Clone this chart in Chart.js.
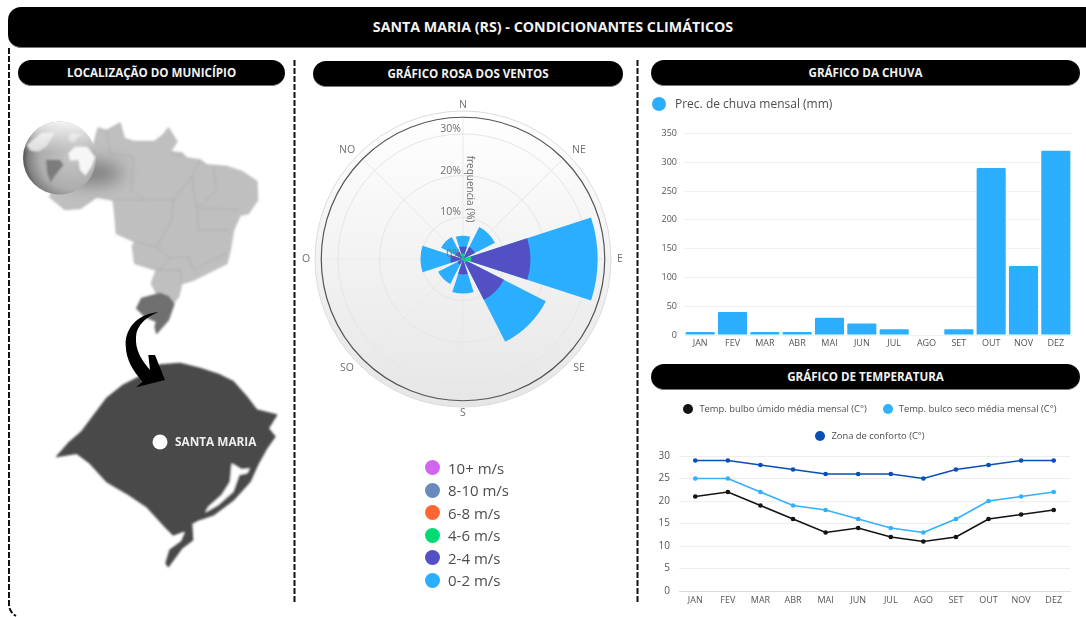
<!DOCTYPE html>
<html>
<head>
<meta charset="utf-8">
<title>Santa Maria (RS) - Condicionantes climáticos</title>
<script src="https://cdn.jsdelivr.net/npm/chart.js@4"></script>
<style>
  html, body { margin: 0; padding: 0; background: #fff; overflow: hidden; }
  #page { position: relative; width: 1086px; height: 617px; overflow: hidden; font-family: "Open Sans", sans-serif; filter: blur(0.55px); }
  #page > * { position: absolute; }
  .pill { background: #000; color: #f2f2f2; font-weight: 700; font-size: 11.6px; text-align: center; line-height: 26px; height: 26px; border-radius: 13px; border-bottom: 1px solid #777; box-sizing: border-box; }
  #mainTitle { left: 8px; top: 7px; width: 1090px; height: 41px; border-radius: 13px; line-height: 40px; font-size: 14.25px; }
  .legend { color: #4d4d4d; white-space: nowrap; }
  .legend i { display: inline-block; border-radius: 50%; vertical-align: middle; }
  canvas { display: block; }
</style>
</head>
<body>
<div id="page">
  <svg width="1086" height="617" style="left:0;top:0">
    <defs>
      <radialGradient id="globeFill" cx="0.66" cy="0.5" r="0.72">
        <stop offset="0" stop-color="#c4c4c4"/>
        <stop offset="0.6" stop-color="#adadad"/>
        <stop offset="0.82" stop-color="#808080"/>
        <stop offset="1" stop-color="#2a2a2a"/>
      </radialGradient>
      <linearGradient id="globeTop" x1="0" y1="0" x2="0" y2="1">
        <stop offset="0" stop-color="#fff" stop-opacity="0.9"/>
        <stop offset="0.42" stop-color="#fff" stop-opacity="0"/>
      </linearGradient>
      <filter id="soft" x="-100%" y="-150%" width="300%" height="400%"><feGaussianBlur stdDeviation="9"/></filter>
      <filter id="edge" x="-5%" y="-5%" width="110%" height="110%"><feGaussianBlur stdDeviation="2.500"/></filter>
    </defs>

    <!-- dashed frame -->
    <g fill="none" stroke="#111" stroke-width="2" stroke-dasharray="6 2">
      <path d="M9 48 V604 Q9 612 16 616"/>
      <path d="M294.500 60 V603"/>
      <path d="M637.500 60 V603"/>
    </g>

    <!-- Brasil -->
    <g transform="scale(0.3333)" filter="url(#edge)">
      <path fill="#bfbfbf" stroke="#bfbfbf" stroke-width="6" stroke-linejoin="round" d="M295 385 L320 392 L360 370 L372 415 L400 425 L465 425 L490 405 L505 385 L530 425 L510 455 L545 460 L560 475 L600 480 L620 495 L680 500 L725 515 L770 545 L772 600 L745 640 L720 645 L700 690 L690 750 L680 790 L630 815 L580 840 L545 850 L535 890 L515 915 L470 880 L455 850 L470 810 L405 790 L398 740 L405 725 L350 700 L345 640 L340 600 L290 590 L240 625 L195 628 L150 590 L200 500 L280 440 Z"/>
      <g fill="none" stroke="#ababab" stroke-width="2.500">
        <path d="M320 392 L330 460 L400 470 L395 570 L430 600 L520 600 L575 530 L600 480"/>
        <path d="M340 600 L430 600"/>
        <path d="M520 600 L515 660 L470 740 L405 725"/>
        <path d="M575 530 L590 625 L595 690 L690 690"/>
        <path d="M640 500 L650 570 L595 625 L715 630"/>
        <path d="M470 740 L510 775 L565 770 L580 810 L680 760"/>
        <path d="M470 810 L540 810 L545 850"/>
        <path d="M510 775 L480 810"/>
        <path d="M510 460 C530 470 550 470 545 460"/>
      </g>
      <path fill="#6f6f6f" stroke="#6f6f6f" stroke-width="4" stroke-linejoin="round" d="M410 925 L425 895 L480 880 L505 890 L522 912 L505 960 L470 1000 L465 980 L470 965 L435 950 Z"/>
    </g>

    <!-- globo -->
    <ellipse cx="92" cy="173" rx="30" ry="11" fill="#555" opacity="0.65" filter="url(#soft)"/>
    <circle cx="59.500" cy="158" r="36.500" fill="url(#globeFill)"/>
    <g transform="translate(10,110) scale(0.3333)" filter="url(#edge)">
      <path fill="#f6f6f6" d="M175 130 L195 110 L232 110 L256 142 L245 170 L226 197 L210 180 L205 150 L180 152 Z"/>
      <path fill="#dcdcdc" d="M50 105 L95 68 L135 68 L110 108 L85 125 L62 122 Z"/>
      <path fill="#7c7c7c" d="M108 150 L150 150 L160 165 L132 200 L122 218 L112 190 Z"/>
      <path fill="#d6d6d6" d="M180 70 L215 72 L190 98 L175 90 Z"/>
    </g>
    <circle cx="59.500" cy="158" r="36.500" fill="url(#globeTop)"/>

    <!-- Rio Grande do Sul -->
    <g transform="translate(0,300) scale(0.3333)" filter="url(#edge)">
      <path fill="#4a4a4a" stroke="#4a4a4a" stroke-width="4" stroke-linejoin="round" d="M170 470 L205 430 L245 395 L275 355 L320 295 L370 255 L420 230 L480 195 L540 190 L600 205 L660 225 L700 245 L740 290 L770 330 L830 345 L805 385 L825 410 L800 445 L775 490 L750 545 L700 600 L640 645 L610 655 L595 660 L575 670 L578 720 L545 745 L505 800 L498 790 L510 750 L545 725 L560 690 L520 705 L495 680 L440 620 L380 580 L320 545 L270 490 L230 460 Z"/>
      <path fill="#fff" d="M695 490 L725 508 L750 505 L742 520 L718 525 L700 575 L655 615 L615 638 L625 620 L665 585 L690 545 Z"/>
    </g>
    <circle cx="160" cy="442" r="7.500" fill="#fff"/>
    <text x="175" y="446" fill="#eee" font-family="Open Sans" font-weight="700" font-size="11.800">SANTA MARIA</text>

    <!-- seta -->
    <g transform="translate(100,280) scale(0.3333)">
      <path fill="#000" d="M175 97 C120 100 75 140 77 195 C78 240 100 275 128 305 L108 322 L195 300 L165 225 L145 225 L150 270 C125 240 105 210 108 170 C110 135 140 110 175 97 Z"/>
    </g>
  </svg>

  <div class="pill" id="mainTitle">SANTA MARIA (RS) - CONDICIONANTES CLIMÁTICOS</div>
  <div class="pill" style="left:18px;top:60px;width:267px">LOCALIZAÇÃO DO MUNICÍPIO</div>
  <div class="pill" style="left:313px;top:61px;width:310px">GRÁFICO ROSA DOS VENTOS</div>
  <div class="pill" style="left:651px;top:60px;width:429px">GRÁFICO DA CHUVA</div>
  <div class="pill" style="left:651px;top:364px;width:429px">GRÁFICO DE TEMPERATURA</div>

  <canvas id="roseChart" width="340" height="340" style="left:293px;top:89px"></canvas>
  <div class="legend" id="roseLegend" style="left:425px;top:455px;font-size:15px"></div>

  <div class="legend" id="rainLegend" style="left:652px;top:94px;font-size:12px"></div>
  <canvas id="rainChart" width="430" height="236" style="left:651px;top:121px"></canvas>

  <div class="legend" id="tempLegend" style="left:649px;top:400px;width:442px;font-size:9.400px;text-align:center"></div>
  <canvas id="tempChart" width="430" height="171" style="left:651px;top:441px"></canvas>
</div>

<script>
const months = ['JAN', 'FEV', 'MAR', 'ABR', 'MAI', 'JUN', 'JUL', 'AGO', 'SET', 'OUT', 'NOV', 'DEZ'];

// chuva
const rainLabel = 'Prec. de chuva mensal (mm)';
const rainValues = [5, 40, 5, 5, 30, 20, 10, 0, 10, 290, 120, 320];
const rainTicks = [0, 50, 100, 150, 200, 250, 300, 350];

// temperatura
const wetBulb = [21, 22, 19, 16, 13, 14, 12, 11, 12, 16, 17, 18];
const dryBulb = [25, 25, 22, 19, 18, 16, 14, 13, 16, 20, 21, 22];
const comfortZone = [29, 29, 28, 27, 26, 26, 26, 25, 27, 28, 29, 29];

// rosa dos ventos, frequencia (%) por direcao
const directions = ['N', 'NE', 'E', 'SE', 'S', 'SO', 'O', 'NO'];
const speed0to2 = [2.6, 5.4, 16.1, 11.3, 4.6, 5.2, 7.2, 3.9];
const speed2to4 = [1.7, 2.7, 14.2, 10.0, 3.4, 1.2, 2.6, 1.6];
const speed4to6 = [1.3, 0.5, 2.0, 1.0, 0.3, 0.3, 0.4, 0.4];
const speed6to8 = [0, 0, 0, 0, 0, 0, 0, 0];
const speed8to10 = [0, 0, 0, 0, 0, 0, 0, 0];
const speed10plus = [0, 0, 0, 0, 0, 0, 0, 0];
const speedLabels = ['10+ m/s', '8-10 m/s', '6-8 m/s', '4-6 m/s', '2-4 m/s', '0-2 m/s'];
const speedColors = ['#d066f0', '#6a8abf', '#ff6633', '#00dc73', '#5350c4', '#2caeff'];
const radialTicks = [0, 10, 20, 30];

const BLUE = '#2caeff';
const FONT = '"Open Sans", sans-serif';

function dot(color, size) {
  return '<i style="width:' + size + 'px;height:' + size + 'px;background:' + color + '"></i>';
}

// ---- rosa dos ventos ----
const sectorAngle = 36;
const gapAngle = 9;
const ringValue = 34;
const discValue = 35.5;

// cada faixa desenha do centro ate o valor acumulado, com um vazio entre as direcoes
const speedSeries = [speed10plus, speed8to10, speed6to8, speed4to6, speed2to4, speed0to2];
const cumulative = directions.map(() => 0);
const roseDatasets = speedSeries.map((series, s) => {
  const data = [];
  series.forEach((v, i) => {
    cumulative[i] += v;
    data.push(cumulative[i], 0);
  });
  return {
    label: speedLabels[s],
    data: data,
    backgroundColor: speedColors[s],
    borderWidth: 0,
    angle: ctx => (ctx.dataIndex % 2 ? gapAngle : sectorAngle)
  };
});

const roseDial = {
  id: 'roseDial',
  beforeDraw(chart) {
    const ctx = chart.ctx;
    const s = chart.scales.r;
    const x = s.xCenter;
    const y = s.yCenter;
    const outer = s.getDistanceFromCenterForValue(discValue);
    const ring = s.getDistanceFromCenterForValue(ringValue);
    const g = ctx.createLinearGradient(0, y - outer, 0, y + outer);
    g.addColorStop(0, '#ffffff');
    g.addColorStop(1, '#e6e6e6');
    ctx.save();
    ctx.beginPath();
    ctx.arc(x, y, outer, 0, Math.PI * 2);
    ctx.fillStyle = g;
    ctx.fill();
    ctx.strokeStyle = '#dcdcdc';
    ctx.lineWidth = 1;
    ctx.stroke();
    ctx.strokeStyle = '#e9e9e9';
    directions.forEach((d, i) => {
      const a = i * Math.PI / 4 - Math.PI / 2;
      ctx.beginPath();
      ctx.moveTo(x, y);
      ctx.lineTo(x + ring * Math.cos(a), y + ring * Math.sin(a));
      ctx.stroke();
    });
    ctx.beginPath();
    ctx.arc(x, y, ring, 0, Math.PI * 2);
    ctx.strokeStyle = '#555';
    ctx.lineWidth = 1.2;
    ctx.stroke();
    ctx.restore();
  },
  afterDraw(chart) {
    const ctx = chart.ctx;
    const s = chart.scales.r;
    const x = s.xCenter;
    const y = s.yCenter;
    ctx.save();
    ctx.fillStyle = '#6f6f6f';
    ctx.textBaseline = 'middle';
    ctx.font = '10.5px ' + FONT;
    ctx.textAlign = 'right';
    s.ticks.forEach(t => {
      ctx.fillText(t.value + '%', x - 2, y - s.getDistanceFromCenterForValue(t.value) - 5);
    });
    ctx.textAlign = 'center';
    directions.forEach((d, i) => {
      const a = i * Math.PI / 4 - Math.PI / 2;
      const r = s.getDistanceFromCenterForValue(discValue);
      ctx.fillText(d, x + (r + (i % 2 ? 16 : 9)) * Math.cos(a), y + (r + 6) * Math.sin(a));
    });
    ctx.translate(x + 7, y - 70);
    ctx.rotate(Math.PI / 2);
    ctx.font = '10px ' + FONT;
    ctx.fillText('frequencia (%)', 0, 0);
    ctx.restore();
  }
};

const roseLabels = [];
directions.forEach(d => roseLabels.push(d, ''));

new Chart(document.getElementById('roseChart'), {
  type: 'polarArea',
  data: { labels: roseLabels, datasets: roseDatasets },
  options: {
    responsive: false,
    animation: false,
    layout: { padding: 22 },
    plugins: { legend: { display: false }, tooltip: { enabled: false } },
    scales: {
      r: {
        min: 0,
        max: discValue,
        startAngle: -sectorAngle / 2,
        afterBuildTicks: s => { s.ticks = radialTicks.map(v => ({ value: v })); },
        ticks: { display: false },
        grid: { color: '#e6e6e6' }
      }
    }
  },
  plugins: [roseDial]
});

document.getElementById('roseLegend').innerHTML = speedLabels.map((l, i) =>
  '<div style="height:22.500px;line-height:22.500px">' + dot(speedColors[i], 15) +
  '<span style="margin-left:8px;vertical-align:middle">' + l + '</span></div>').join('');

// ---- chuva ----
document.getElementById('rainLegend').innerHTML = dot(BLUE, 14) +
  '<span style="margin-left:9px;vertical-align:middle">' + rainLabel + '</span>';

new Chart(document.getElementById('rainChart'), {
  type: 'bar',
  data: {
    labels: months,
    datasets: [{
      label: rainLabel,
      data: rainValues,
      backgroundColor: BLUE,
      barPercentage: 0.9,
      categoryPercentage: 1,
      borderRadius: 1
    }]
  },
  options: {
    responsive: false,
    animation: false,
    layout: { padding: { top: 0, right: 9, left: 0, bottom: 0 } },
    plugins: { legend: { display: false }, tooltip: { enabled: false } },
    scales: {
      x: {
        grid: { display: false, drawTicks: false },
        border: { display: false },
        afterFit: s => { s.height = 22; },
        ticks: { color: '#555', font: { family: FONT, size: 9 }, padding: 3, maxRotation: 0 }
      },
      y: {
        min: 0,
        max: 350,
        afterBuildTicks: s => { s.ticks = rainTicks.map(v => ({ value: v })); },
        afterFit: s => { s.width = 33; },
        grid: { color: '#f0f0f0', drawTicks: false },
        border: { display: false },
        ticks: { color: '#555', font: { family: FONT, size: 9 }, padding: 7 }
      }
    }
  }
});

// ---- temperatura ----
const tempSeries = [
  { label: 'Temp. bulbo úmido média mensal (C°)', data: wetBulb, color: '#141414' },
  { label: 'Temp. bulco seco média mensal (C°)', data: dryBulb, color: '#33b0ff' },
  { label: 'Zona de conforto (C°)', data: comfortZone, color: '#0a4fb5' }
];

function tempLegendItem(t) {
  return '<span style="margin:0 8px">' + dot(t.color, 10) +
    '<span style="margin-left:6px;vertical-align:middle">' + t.label + '</span></span>';
}
document.getElementById('tempLegend').innerHTML =
  '<div style="height:27px;line-height:18px">' + tempLegendItem(tempSeries[0]) + tempLegendItem(tempSeries[1]) + '</div>' +
  '<div style="height:27px;line-height:18px">' + tempLegendItem(tempSeries[2]) + '</div>';

new Chart(document.getElementById('tempChart'), {
  type: 'line',
  data: {
    labels: months,
    datasets: tempSeries.map(t => ({
      label: t.label,
      data: t.data,
      borderColor: t.color,
      backgroundColor: t.color,
      borderWidth: 1.7,
      pointRadius: 1.5,
      tension: 0
    }))
  },
  options: {
    responsive: false,
    animation: false,
    layout: { padding: { top: 0, right: 11, left: 0, bottom: 0 } },
    plugins: { legend: { display: false }, tooltip: { enabled: false } },
    scales: {
      x: {
        offset: true,
        grid: { display: false, drawTicks: false },
        border: { color: '#ddd' },
        afterFit: s => { s.height = 21; },
        ticks: { color: '#555', font: { family: FONT, size: 9 }, padding: 4, maxRotation: 0 }
      },
      y: {
        min: 0,
        max: 30,
        afterFit: s => { s.width = 28; },
        grid: { color: '#eeeeee', drawTicks: false },
        border: { display: false },
        ticks: { stepSize: 5, color: '#555', font: { family: FONT, size: 10 }, padding: 9 }
      }
    }
  }
});
</script>
</body>
</html>
